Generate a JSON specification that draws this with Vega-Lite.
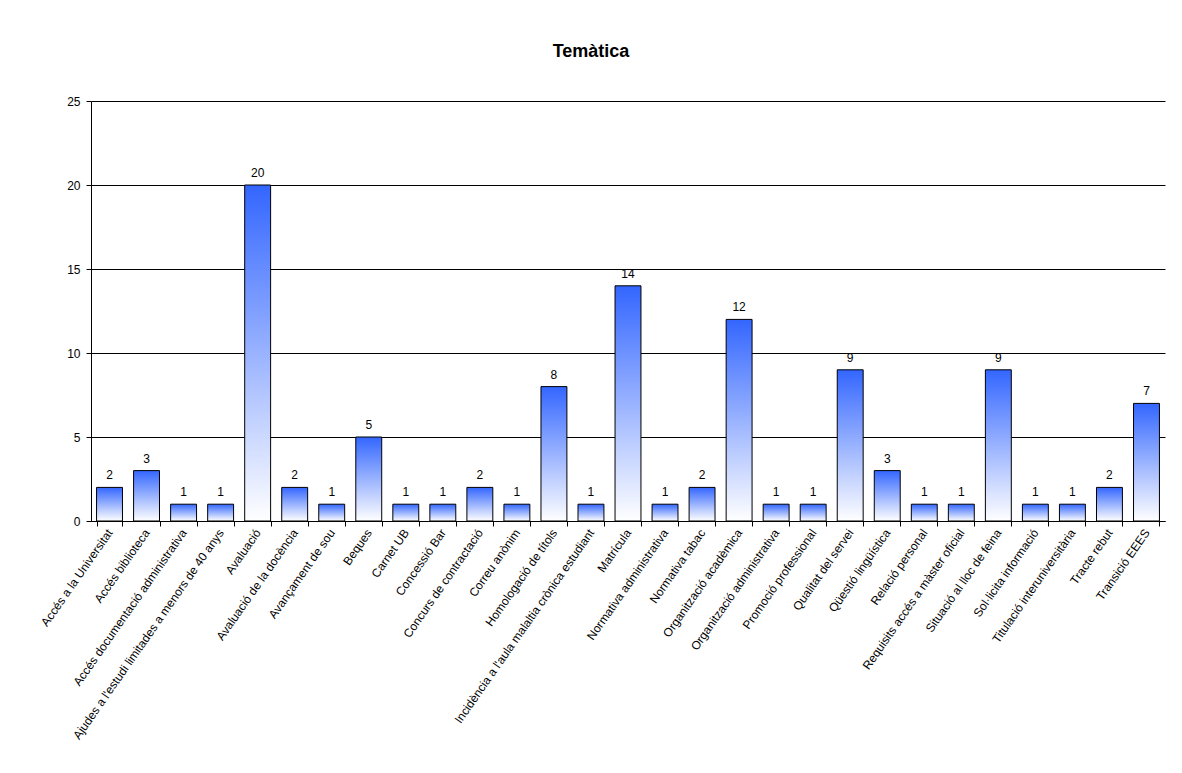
{
  "$schema": "https://vega.github.io/schema/vega-lite/v6.json",
  "autosize": {"type": "none"},
  "width": 1074,
  "height": 420,
  "padding": {"left": 91, "top": 101, "right": 17, "bottom": 252},
  "background": "white",
  "title": {"text": "Temàtica", "fontSize": 18, "font": "Liberation Sans", "fontWeight": "bold", "color": "black", "anchor": "middle", "offset": 34, "dx": -37},
  "config": {"view": {"stroke": null}, "font": "Liberation Sans"},
  "data": {"values": [
    {"tema": "Accés a la Universitat", "n": 2},
    {"tema": "Accés biblioteca", "n": 3},
    {"tema": "Accés documentació administrativa", "n": 1},
    {"tema": "Ajudes a l'estudi limitades a menors de 40 anys", "n": 1},
    {"tema": "Avaluació", "n": 20},
    {"tema": "Avaluació de la docència", "n": 2},
    {"tema": "Avançament de sou", "n": 1},
    {"tema": "Beques", "n": 5},
    {"tema": "Carnet UB", "n": 1},
    {"tema": "Concessió Bar", "n": 1},
    {"tema": "Concurs de contractació", "n": 2},
    {"tema": "Correu anònim", "n": 1},
    {"tema": "Homologació de títols", "n": 8},
    {"tema": "Incidència a l'aula malaltia crònica estudiant", "n": 1},
    {"tema": "Matrícula", "n": 14},
    {"tema": "Normativa administrativa", "n": 1},
    {"tema": "Normativa tabac", "n": 2},
    {"tema": "Organització acadèmica", "n": 12},
    {"tema": "Organització administrativa", "n": 1},
    {"tema": "Promoció professional", "n": 1},
    {"tema": "Qualitat del servei", "n": 9},
    {"tema": "Qüestió lingüística", "n": 3},
    {"tema": "Relació personal", "n": 1},
    {"tema": "Requisits accés a màster oficial", "n": 1},
    {"tema": "Situació al lloc de feina", "n": 9},
    {"tema": "Sol·licita informació", "n": 1},
    {"tema": "Titulació interuniversitària", "n": 1},
    {"tema": "Tracte rebut", "n": 2},
    {"tema": "Transició EEES", "n": 7}
  ]},
  "encoding": {
    "x": {"field": "tema", "type": "nominal", "sort": null,
      "scale": {"paddingInner": 0.3, "paddingOuter": 0.15},
      "axis": {"title": null, "labelAngle": -55, "labelAlign": "right", "labelBaseline": "middle", "labelFontSize": 12, "labelColor": "black", "labelPadding": 4, "tickBand": "extent", "tickColor": "black", "tickSize": 5, "domainColor": "black", "labelLimit": 400, "labelOverlap": false}},
    "y": {"field": "n", "type": "quantitative",
      "scale": {"domain": [0, 25]},
      "axis": {"title": null, "values": [0, 5, 10, 15, 20, 25], "grid": true, "gridColor": "black", "gridOpacity": 1, "domainColor": "black", "tickColor": "black", "tickSize": 5, "labelFontSize": 12, "labelColor": "black", "labelPadding": 6}}
  },
  "layer": [
    {"mark": {"type": "bar", "stroke": "black", "strokeWidth": 1,
      "color": {"gradient": "linear", "x1": 0, "y1": 0, "x2": 0, "y2": 1,
        "stops": [{"offset": 0, "color": "#3366ff"}, {"offset": 1, "color": "#ffffff"}]}}},
    {"mark": {"type": "text", "dy": -12, "fontSize": 12, "fill": "black"},
      "encoding": {"text": {"field": "n", "type": "quantitative"}}}
  ]
}
